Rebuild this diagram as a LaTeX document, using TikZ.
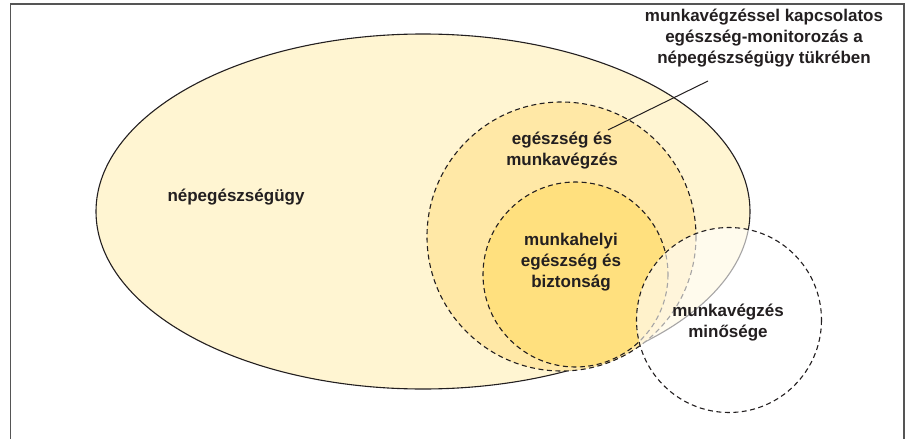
\documentclass[tikz,border=0pt]{standalone}
\usepackage{fontspec}
\setmainfont{Liberation Sans}
\definecolor{outerfill}{HTML}{FFF5D2}
\definecolor{midfill}{HTML}{FFE8A6}
\definecolor{innerfill}{HTML}{FFE07E}
\definecolor{txt}{HTML}{231F20}
\definecolor{framecol}{HTML}{555555}
\tikzset{
  dashline/.style={draw=txt, line width=1.1pt, dash pattern=on 5pt off 3.5pt},
  lbl/.style={text=txt, font=\fontsize{17}{21}\selectfont\bfseries, align=center, inner sep=0pt},
}
\begin{document}
\begin{tikzpicture}[x=1pt,y=-1pt]
\useasboundingbox (0,0) rectangle (911,439);
% frame
\draw[framecol, line width=1.4pt] (10.5,440) -- (10.5,4) -- (904,4) -- (904,440);
% public health ellipse
\draw[fill=outerfill, draw=txt, line width=1.1pt] (423,211.5) ellipse [x radius=327, y radius=177.5];
% health and work
\fill[midfill] (561.5,236.5) circle [radius=134.5];
\draw[dashline] (561.5,236.5) circle [radius=134.5];
% workplace health and safety
\fill[innerfill] (575.5,274.5) circle [radius=92.5];
\draw[dashline] (575.5,274.5) circle [radius=92.5];
% quality of work
\fill[white, fill opacity=0.6] (729,320) circle [radius=92.5];
\draw[dashline] (729,320) circle [radius=92.5];
% labels
\node[lbl] (mon) at (764,38.5) {munkavégzéssel kapcsolatos\\egészség-monitorozás a\\népegészségügy tükrében};
\node[lbl] (pub) at (236,197) {népegészségügy};
\node[lbl] (hw) at (562,151) {egészség és\\munkavégzés};
\node[lbl] (whs) at (571,262) {munkahelyi\\egészség és\\biztonság};
\node[lbl] (qw) at (728,323) {munkavégzés\\minősége};
% leader
\coordinate (la) at (708,81);
\coordinate (lb) at (608,130);
\draw[txt, line width=1pt] (la) -- (lb);
\end{tikzpicture}
\end{document}
